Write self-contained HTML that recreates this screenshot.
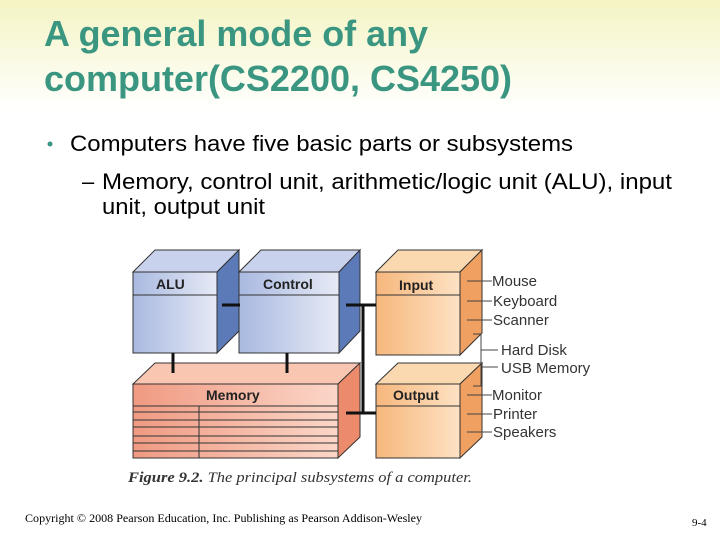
<!DOCTYPE html>
<html><head><meta charset="utf-8"><style>
html,body{margin:0;padding:0;background:#fff}
svg{display:block}
</style></head><body>
<svg width="720" height="540" viewBox="0 0 720 540" xmlns="http://www.w3.org/2000/svg">
<defs>
<linearGradient id="bg" x1="0" y1="0" x2="0" y2="1">
<stop offset="0" stop-color="#f4f4c4"/><stop offset="1" stop-color="#ffffff"/>
</linearGradient>
<linearGradient id="blue" x1="0" y1="0" x2="1" y2="0">
<stop offset="0" stop-color="#a9b9e0"/><stop offset="1" stop-color="#e6eaf6"/>
</linearGradient>
<linearGradient id="org" x1="0" y1="0" x2="1" y2="0">
<stop offset="0" stop-color="#f6b77c"/><stop offset="1" stop-color="#fde2c4"/>
</linearGradient>
<linearGradient id="red" x1="0" y1="0" x2="1" y2="0">
<stop offset="0" stop-color="#f09a82"/><stop offset="1" stop-color="#fbd6c8"/>
</linearGradient>
</defs>
<rect x="0" y="0" width="720" height="110" fill="url(#bg)"/>
<g font-family="Liberation Sans, sans-serif" font-weight="bold" fill="#3a9680" font-size="36">
<text x="44" y="46" textLength="384" lengthAdjust="spacingAndGlyphs">A general mode of any</text>
<text x="44" y="91" textLength="468" lengthAdjust="spacingAndGlyphs">computer(CS2200, CS4250)</text>
</g>
<circle cx="50" cy="144" r="2.5" fill="#3a9680"/>
<g font-family="Liberation Sans, sans-serif" font-size="22" fill="#000">
<text x="70" y="151" textLength="503" lengthAdjust="spacingAndGlyphs">Computers have five basic parts or subsystems</text>
<text x="82" y="189">–</text>
<text x="102" y="189" textLength="570" lengthAdjust="spacingAndGlyphs">Memory, control unit, arithmetic/logic unit (ALU), input</text>
<text x="102" y="214" textLength="163" lengthAdjust="spacingAndGlyphs">unit, output unit</text>
</g>
<g stroke="#333" stroke-width="1">
<polygon points="133,272 155,250 239,250 217,272" fill="#c8d2ec"/>
<polygon points="217,272 239,250 239,331 217,353" fill="#5c79b8"/>
<rect x="133" y="272" width="84" height="81" fill="url(#blue)"/>
<line x1="133" y1="295" x2="217" y2="295"/>
<polygon points="239,272 261,250 360,250 339,272" fill="#c8d2ec"/>
<polygon points="339,272 360,250 360,331 339,353" fill="#5c79b8"/>
<rect x="239" y="272" width="100" height="81" fill="url(#blue)"/>
<line x1="239" y1="295" x2="339" y2="295"/>
<polygon points="376,272 398,250 482,250 460,272" fill="#fbd9b0"/>
<polygon points="460,272 482,250 482,333 460,355" fill="#f0a060"/>
<rect x="376" y="272" width="84" height="83" fill="url(#org)"/>
<line x1="376" y1="295" x2="460" y2="295"/>
<polygon points="133,384 155,363 360,363 338,384" fill="#f9c6b2"/>
<polygon points="338,384 360,363 360,437 338,458" fill="#ec8a6c"/>
<rect x="133" y="384" width="205" height="74" fill="url(#red)"/>
<line x1="133" y1="406" x2="338" y2="406"/>
<line x1="133" y1="412" x2="338" y2="412"/>
<line x1="133" y1="420" x2="338" y2="420"/>
<line x1="133" y1="427" x2="338" y2="427"/>
<line x1="133" y1="436" x2="338" y2="436"/>
<line x1="133" y1="443" x2="338" y2="443"/>
<line x1="133" y1="451" x2="338" y2="451"/>
<line x1="199" y1="406" x2="199" y2="458"/>
<polygon points="376,384 398,363 482,363 460,384" fill="#fbd9b0"/>
<polygon points="460,384 482,363 482,437 460,458" fill="#f0a060"/>
<rect x="376" y="384" width="84" height="74" fill="url(#org)"/>
<line x1="376" y1="406" x2="460" y2="406"/>
</g>
<g stroke="#111" stroke-width="3" fill="none">
<line x1="222" y1="305" x2="240" y2="305"/>
<line x1="346" y1="305" x2="376" y2="305"/>
<line x1="363" y1="305" x2="363" y2="414"/>
<line x1="346" y1="413" x2="376" y2="413"/>
<line x1="173" y1="353" x2="173" y2="373"/>
<line x1="287" y1="353" x2="287" y2="373"/>
</g>
<g font-family="Liberation Sans, sans-serif" font-weight="bold" font-size="14" fill="#222">
<text x="156" y="289">ALU</text>
<text x="263" y="289">Control</text>
<text x="399" y="290">Input</text>
<text x="206" y="400">Memory</text>
<text x="393" y="400">Output</text>
</g>
<g stroke="#444" stroke-width="1" fill="none">
<line x1="467" y1="281" x2="492" y2="281"/>
<line x1="467" y1="301" x2="492" y2="301"/>
<line x1="467" y1="320" x2="492" y2="320"/>
<polyline points="473,334 481,334 481,386 473,386"/>
<line x1="481" y1="350" x2="498" y2="350"/>
<line x1="481" y1="367" x2="498" y2="367"/>
<line x1="467" y1="395" x2="492" y2="395"/>
<line x1="467" y1="414" x2="492" y2="414"/>
<line x1="467" y1="432" x2="492" y2="432"/>
</g>
<g font-family="Liberation Sans, sans-serif" font-size="15" fill="#333">
<text x="492" y="286">Mouse</text>
<text x="493" y="306">Keyboard</text>
<text x="493" y="325">Scanner</text>
<text x="501" y="355">Hard Disk</text>
<text x="501" y="373">USB Memory</text>
<text x="492" y="400">Monitor</text>
<text x="493" y="419">Printer</text>
<text x="493" y="437">Speakers</text>
</g>
<text x="128" y="482" font-family="Liberation Serif, serif" font-size="15" fill="#333" textLength="344" lengthAdjust="spacingAndGlyphs"><tspan font-weight="bold" font-style="italic">Figure 9.2.</tspan><tspan font-style="italic"> The principal subsystems of a computer.</tspan></text>
<text x="25" y="522" font-family="Liberation Serif, serif" font-size="12" fill="#000" textLength="397" lengthAdjust="spacingAndGlyphs">Copyright © 2008 Pearson Education, Inc. Publishing as Pearson Addison-Wesley</text>
<text x="692" y="526" font-family="Liberation Serif, serif" font-size="11" fill="#000">9-4</text>
</svg>
</body></html>
